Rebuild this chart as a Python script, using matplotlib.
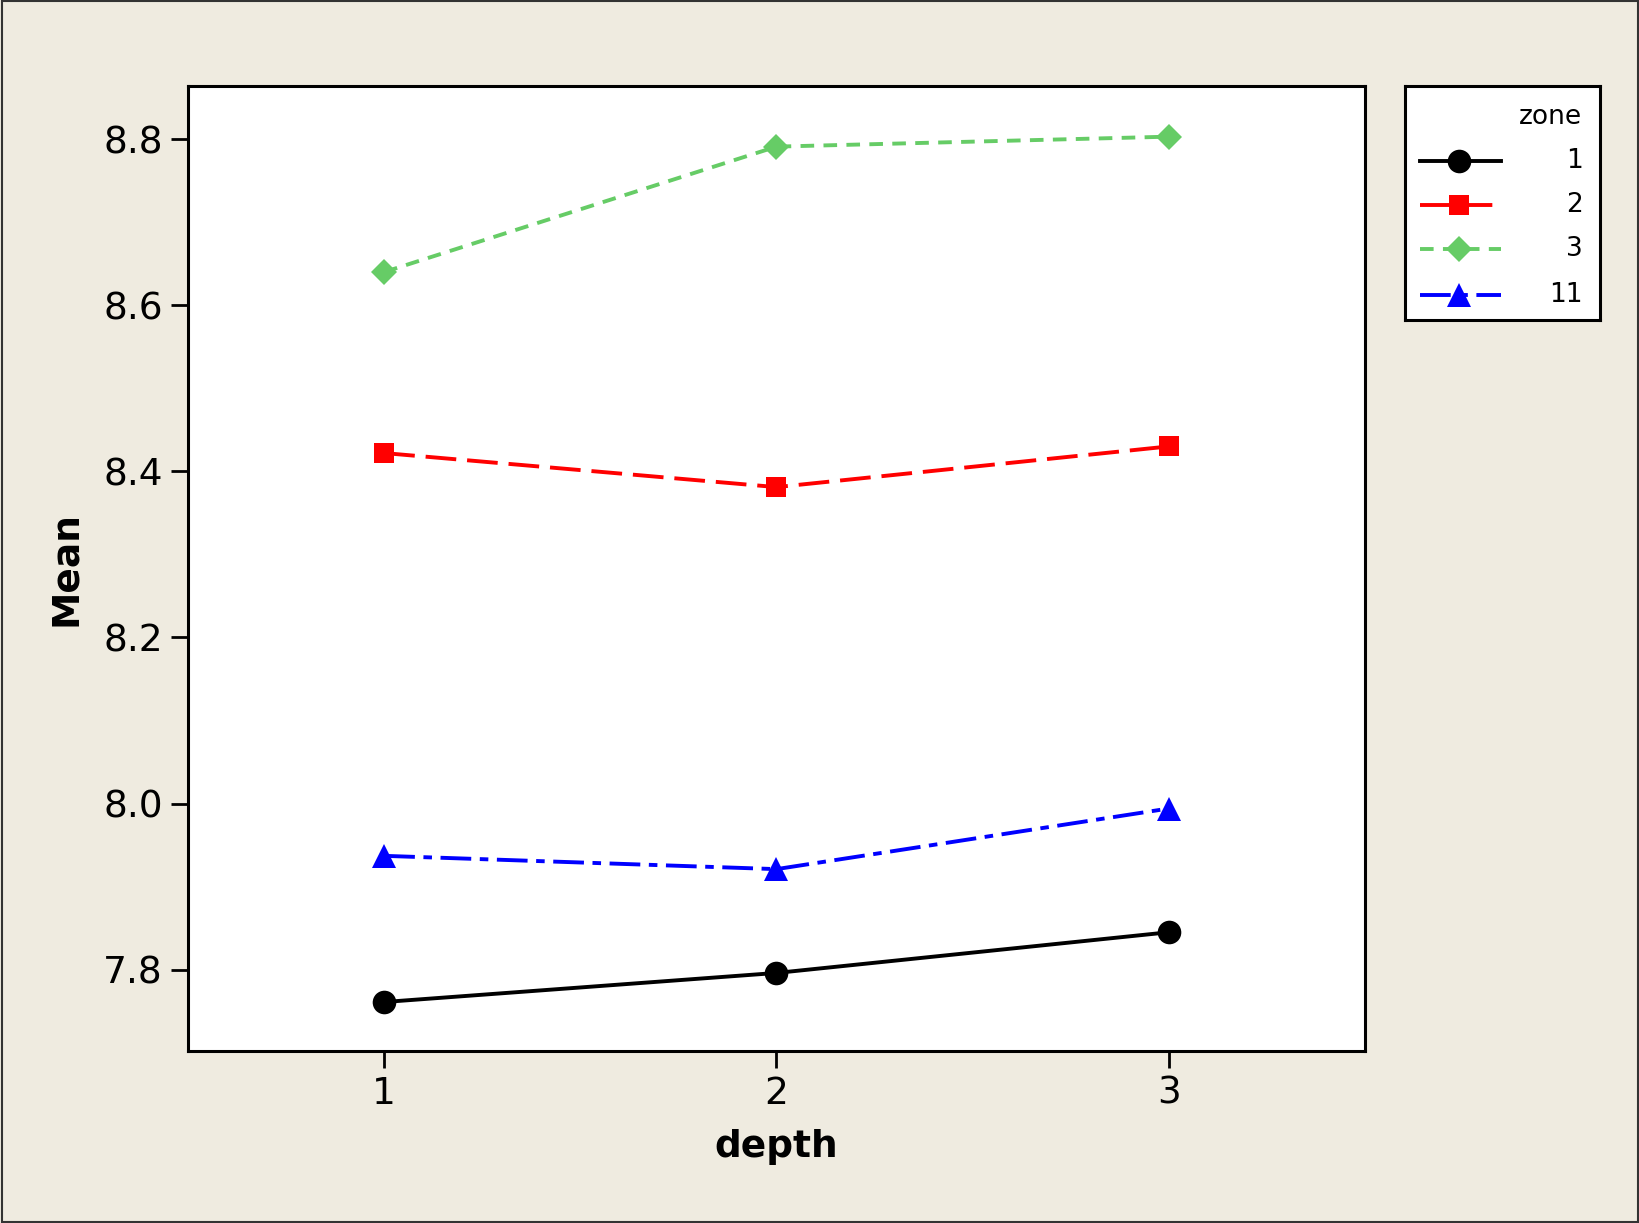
import numpy as np
import matplotlib
matplotlib.use("Agg")
import matplotlib.pyplot as plt
from matplotlib.lines import Line2D
from matplotlib.patches import Rectangle

# data
depth = [1, 2, 3]
zones = ["1", "2", "3", "11"]
zone1 = [7.761, 7.796, 7.845]
zone2 = [8.422, 8.381, 8.430]
zone3 = [8.640, 8.791, 8.803]
zone11 = [7.937, 7.921, 7.994]
yticks = [7.8, 8.0, 8.2, 8.4, 8.6, 8.8]

series = [zone1, zone2, zone3, zone11]
colors = ["black", "#ff0000", "#66cc66", "#0000ff"]
markers = ["o", "s", "D", "^"]
msizes = [17, 14.5, 13, 17]
dashes = [None, (7.9, 2.8), (3.5, 2.4), (7.9, 2.2, 2.2, 2.2)]
lw = 2.8

bg = "#efebe0"
fig = plt.figure(figsize=(16.4, 12.23), dpi=100, facecolor=bg)
ax = fig.add_axes([188 / 1640, 1 - 1051 / 1223, (1365 - 188) / 1640, (1051 - 86) / 1223])
ax.set_facecolor("white")

for vals, c, m, ms, d in zip(series, colors, markers, msizes, dashes):
    line, = ax.plot(depth, vals, color=c, marker=m, markersize=ms, lw=lw,
                    markeredgewidth=0)
    if d is not None:
        line.set_dashes(d)

ax.set_xlim(0.5, 3.5)
ax.set_ylim(7.702, 8.864)
ax.set_xticks(depth)
ax.set_yticks(yticks)
ax.set_yticklabels([f"{v:.1f}" for v in yticks])
ax.tick_params(axis="both", direction="out", length=12, width=2,
               labelsize=27, pad=6)
for s in ax.spines.values():
    s.set_linewidth(2.2)
ax.set_xlabel("depth", fontsize=27, fontweight="bold", labelpad=12)
ax.set_ylabel("Mean", fontsize=27, fontweight="bold", labelpad=14)

# legend drawn as its own small box
lax = fig.add_axes([1405 / 1640, 1 - 320 / 1223, (1600 - 1405) / 1640, (320 - 86) / 1223])
lax.set_xlim(0, 1)
lax.set_ylim(0, 1)
lax.set_xticks([])
lax.set_yticks([])
for s in lax.spines.values():
    s.set_linewidth(2.2)
lax.text(0.91, 0.866, "zone", ha="right", va="center", fontsize=19)
ypos = [0.679, 0.491, 0.304, 0.107]
for z, y, c, m, ms, d in zip(zones, ypos, colors, markers, msizes, dashes):
    ln = Line2D([0.075, 0.49], [y, y], color=c, lw=lw)
    if d is not None:
        ln.set_dashes(d)
    lax.add_line(ln)
    lax.plot([0.278], [y], marker=m, color=c, markersize=ms, markeredgewidth=0)
    lax.text(0.91, y, z, ha="right", va="center", fontsize=19)

# thin frame round the whole figure
fig.patches.append(Rectangle((0.001, 0.001), 0.998, 0.998, transform=fig.transFigure,
                             fill=False, edgecolor="#333333", lw=1.5))

fig.savefig("out.png", dpi=100, facecolor=bg)
